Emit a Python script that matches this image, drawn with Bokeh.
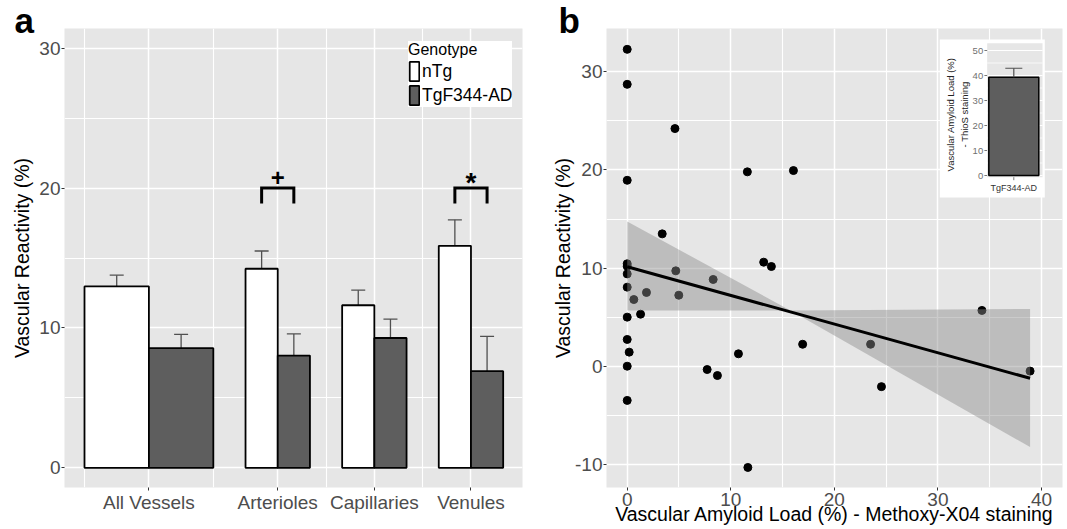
import math
from bokeh.plotting import figure
from bokeh.models import (ColumnDataSource, Range1d, FixedTicker, Whisker, TeeHead,
                          Legend, LegendItem)
from bokeh.layouts import row
from bokeh.embed import file_html
from bokeh.resources import INLINE
from bokeh.core.properties import value

# ---------------- data: panel a ----------------
categories = ["All Vessels", "Arterioles", "Capillaries", "Venules"]
genotypes = ["nTg", "TgF344-AD"]
ntg_mean = [12.97, 14.23, 11.62, 15.87]
ntg_sem = [0.80, 1.27, 1.08, 1.86]
tg_mean = [8.55, 8.02, 9.28, 6.91]
tg_sem = [0.99, 1.55, 1.35, 2.49]
sig_categories = ["Arterioles", "Venules"]
sig_marks = ["+", "*"]
sig_level = 20.0
a_yticks = [0, 10, 20, 30]

# ---------------- data: panel b ----------------
amyloid_load = [0.0, 0.0, 0.0, 4.61, 11.6, 16.05, 3.38, 0.0, 0.0, 0.0, 0.0, 0.64, 1.86,
                4.69, 4.98, 8.30, 13.18, 13.92, 1.29, 0.0, 0.0, 0.19, 0.0, 0.0, 7.72,
                8.71, 10.74, 16.94, 23.5, 24.55, 34.25, 38.9, 11.65]
reactivity = [32.26, 28.7, 18.94, 24.2, 19.8, 19.93, 13.49, 10.45, 10.2, 9.42, 8.07, 6.81,
              7.53, 9.73, 7.25, 8.85, 10.61, 10.17, 5.32, 5.02, 2.75, 1.46, 0.03, -3.45,
              -0.31, -0.92, 1.29, 2.26, 2.26, -2.05, 5.70, -0.47, -10.27]
fit_x = [0.0, 38.9]
fit_y = [10.15, -1.2]
band_x = [0.0, 15.76, 38.9]
band_upper = [14.75, 5.70, 5.85]
band_lower = [5.70, 5.70, -8.2]
b_xticks = [0, 10, 20, 30, 40]
b_yticks = [-10, 0, 10, 20, 30]

# inset (ThioS)
inset_group = ["TgF344-AD"]
inset_mean = [39.3]
inset_sem = [3.6]
inset_yticks = [0, 10, 20, 30, 40, 50]
inset_ylabel_lines = ["Vascular Amyloid Load (%)", "- ThioS staining"]

# ---------------- layout / style constants ----------------
FONT = "Liberation Sans"
PANEL_BG = "#e6e6e6"
DARK = "#5e5e5e"
TICK_TXT = "#4d4d4d"
group_center = [2, 6, 9, 12]
group_width = [2, 1, 1, 1]
a_vgrid_minor = [0, 4, 7.5, 10.5]
sig_text_lift = [0.75, 0.38]
sig_text_size = ["24px", "28px"]


def style_axes(p):
    for ax in p.axis:
        ax.axis_line_color = None
        ax.major_tick_line_color = "#333333"
        ax.major_tick_out = 3
        ax.major_tick_in = 0
        ax.minor_tick_line_color = None
        ax.major_label_text_font = FONT
        ax.major_label_text_font_size = "19px"
        ax.major_label_text_color = TICK_TXT
        ax.axis_label_text_font = FONT
        ax.axis_label_text_font_size = "19.5px"
        ax.axis_label_text_font_style = "normal"
        ax.axis_label_text_color = "black"
    for g in p.grid:
        g.grid_line_color = "white"
        g.grid_line_width = 1.5
        g.minor_grid_line_color = "white"
        g.minor_grid_line_width = 1.1
    p.background_fill_color = PANEL_BG
    p.border_fill_color = "white"
    p.outline_line_color = None


def panel_letter(p, letter, offset):
    t = p.title
    t.text = letter
    t.align = "left"
    t.vertical_align = "bottom"
    t.offset = offset
    t.standoff = -23
    t.text_font = FONT
    t.text_font_size = "35px"
    t.text_font_style = "bold"
    t.text_color = "black"


# ================= panel a =================
pa = figure(width=548, height=529, output_backend="svg", toolbar_location=None,
            x_range=Range1d(-0.621, 13.60), y_range=Range1d(-1.41, 31.41),
            min_border_left=64, min_border_right=26, min_border_top=28, min_border_bottom=42)
style_axes(pa)
panel_letter(pa, "a", -50)

x_ntg = [c - w / 2 for c, w in zip(group_center, group_width)]
x_tg = [c + w / 2 for c, w in zip(group_center, group_width)]
src_a = ColumnDataSource(dict(
    x_ntg=x_ntg, x_tg=x_tg, w=group_width,
    ntg=ntg_mean, tg=tg_mean,
    ntg_hi=[m + s for m, s in zip(ntg_mean, ntg_sem)],
    tg_hi=[m + s for m, s in zip(tg_mean, tg_sem)],
))

r_ntg = pa.vbar(x="x_ntg", width="w", top="ntg", bottom=0, source=src_a,
                fill_color="white", line_color="black", line_width=1.8)
r_tg = pa.vbar(x="x_tg", width="w", top="tg", bottom=0, source=src_a,
               fill_color=DARK, line_color="black", line_width=1.8)

for xcol, lo, hi in [("x_ntg", "ntg", "ntg_hi"), ("x_tg", "tg", "tg_hi")]:
    pa.add_layout(Whisker(source=src_a, base=xcol, lower=lo, upper=hi,
                          line_color="#505050", line_width=1.3,
                          upper_head=TeeHead(size=14, line_color="#505050", line_width=1.3),
                          lower_head=None))

# significance brackets
br_xs, br_ys, txt_x, txt_y = [], [], [], []
for i, cat in enumerate(sig_categories):
    c = group_center[categories.index(cat)]
    br_xs.append([c - 0.5, c - 0.5, c + 0.5, c + 0.5])
    br_ys.append([sig_level - 1.1, sig_level, sig_level, sig_level - 1.1])
    txt_x.append(c)
    txt_y.append(sig_level + sig_text_lift[i])
pa.multi_line(br_xs, br_ys, line_color="black", line_width=3, line_join="miter")
pa.text(x="x", y="y", text="t", text_font_size="fs",
        source=ColumnDataSource(dict(x=txt_x, y=txt_y, t=sig_marks, fs=sig_text_size)),
        text_font=value(FONT), text_font_style="bold", text_align="center",
        text_baseline="middle", text_color="black")

pa.xaxis.ticker = FixedTicker(ticks=group_center)
pa.xaxis.major_label_overrides = {c: n for c, n in zip(group_center, categories)}
pa.xaxis.major_label_standoff = 1
pa.xgrid.ticker = FixedTicker(ticks=group_center, minor_ticks=a_vgrid_minor)
pa.yaxis.ticker = FixedTicker(ticks=a_yticks)
pa.ygrid.ticker = FixedTicker(ticks=a_yticks, minor_ticks=[5, 15, 25])
pa.yaxis.axis_label = "Vascular Reactivity (%)"
pa.yaxis.major_label_standoff = 1
pa.yaxis.axis_label_standoff = 3

legend = Legend(items=[LegendItem(label=genotypes[0], renderers=[r_ntg]),
                       LegendItem(label=genotypes[1], renderers=[r_tg])],
                title="Genotype", location=(344, 380), orientation="vertical",
                background_fill_color="white", background_fill_alpha=1.0,
                border_line_color=None, padding=1, spacing=0, margin=0,
                glyph_width=12, glyph_height=24, label_height=24, label_standoff=2,
                label_text_font=FONT, label_text_font_size="17.5px", label_text_color="black",
                title_text_font=FONT, title_text_font_size="16px", title_text_font_style="normal",
                title_text_color="black", title_standoff=0)
pa.add_layout(legend)

# ================= panel b =================
pb = figure(width=519, height=529, output_backend="svg", toolbar_location=None,
            x_range=Range1d(-2.0, 42.03), y_range=Range1d(-12.31, 34.38),
            min_border_left=58, min_border_right=5, min_border_top=28, min_border_bottom=42)
style_axes(pb)
panel_letter(pb, "b", -48)
pb.xaxis.ticker = FixedTicker(ticks=b_xticks)
pb.xgrid.ticker = FixedTicker(ticks=b_xticks, minor_ticks=[5, 15, 25, 35])
pb.yaxis.ticker = FixedTicker(ticks=b_yticks)
pb.yaxis.major_label_overrides = {t: str(t) for t in b_yticks}
pb.ygrid.ticker = FixedTicker(ticks=b_yticks, minor_ticks=[-5, 5, 15, 25])
pb.xaxis.axis_label = "Vascular Amyloid Load (%) - Methoxy-X04 staining"
pb.yaxis.axis_label = "Vascular Reactivity (%)"
pb.xaxis.major_label_standoff = 2
pb.xaxis.axis_label_standoff = -6
pb.yaxis.major_label_standoff = 1
pb.yaxis.axis_label_standoff = -2

pb.scatter(amyloid_load, reactivity, size=8, fill_color="black", line_color="black")
pb.varea(x=band_x, y1=band_lower, y2=band_upper, fill_color="#8c8c8c", fill_alpha=0.45)
pb.line(fit_x, fit_y, line_color="black", line_width=3)

# ---- inset drawn in its own coordinate system ----
pb.extra_x_ranges = {"ix": Range1d(-6.331, 1.8765)}
pb.extra_y_ranges = {"iy": Range1d(-124.8, 58.8)}
IK = dict(x_range_name="ix", y_range_name="iy")
IN_L, IN_R, IN_B, IN_T = 0.521, 1.517, -0.68, 52.92   # inset panel frame
pb.quad(left=-0.332, right=1.558, bottom=-8.8, top=54.4, fill_color="white",
        line_color=None, **IK)
pb.quad(left=IN_L, right=IN_R, bottom=IN_B, top=IN_T, fill_color=PANEL_BG,
        line_color=None, **IK)
minor_iy = [t + 5 for t in inset_yticks if t + 5 < IN_T]
pb.segment(x0=[IN_L] * len(minor_iy), x1=[IN_R] * len(minor_iy), y0=minor_iy, y1=minor_iy,
           line_color="white", line_width=0.7, **IK)
pb.segment(x0=[IN_L] * len(inset_yticks), x1=[IN_R] * len(inset_yticks), y0=inset_yticks,
           y1=inset_yticks, line_color="white", line_width=1.1, **IK)
pb.vbar(x=[1], width=0.9, top=inset_mean, bottom=0, fill_color=DARK, line_color="black",
        line_width=1.5, **IK)
pb.segment(x0=[1], x1=[1], y0=inset_mean, y1=[m + s for m, s in zip(inset_mean, inset_sem)],
           line_color="#505050", line_width=1.2, **IK)
pb.scatter(x=[1], y=[m + s for m, s in zip(inset_mean, inset_sem)], marker="dash", size=17,
           line_color="#505050", line_width=1.2, **IK)
pb.segment(x0=[IN_L - 0.05] * len(inset_yticks), x1=[IN_L] * len(inset_yticks),
           y0=inset_yticks, y1=inset_yticks, line_color="#555555", line_width=0.8, **IK)
pb.text(x=[IN_L] * len(inset_yticks), y=inset_yticks, text=[str(t) for t in inset_yticks],
        x_offset=-4, text_align="right", text_baseline="middle", text_font=value(FONT),
        text_font_size="9.5px", text_color="#707070", **IK)
pb.segment(x0=[1], x1=[1], y0=[IN_B], y1=[IN_B - 1.2], line_color="#555555", line_width=0.8, **IK)
pb.text(x=[1], y=[-4.8], text=inset_group, text_align="center", text_baseline="middle",
        text_font=value(FONT), text_font_size="9px", text_color="#333333", **IK)
pb.text(x=[-0.139, 0.113], y=[24.4, 24.4], text=inset_ylabel_lines, angle=math.pi / 2,
        text_align="center", text_baseline="middle", text_font=value(FONT),
        text_font_size="9.5px", text_color="#222222", **IK)

layout = row(pa, pb)
open("out.html", "w").write(file_html(layout, INLINE))
